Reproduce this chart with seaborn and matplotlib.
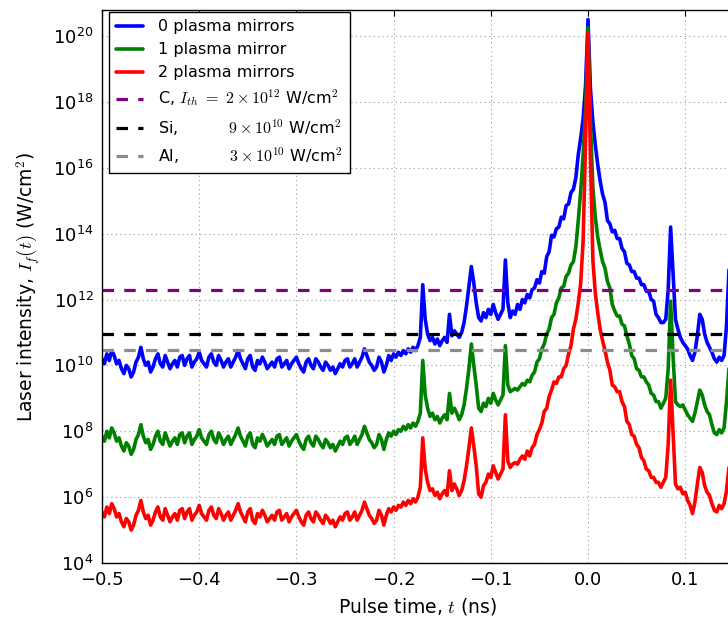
import numpy as np
import pandas as pd
import matplotlib
matplotlib.use("Agg")
import matplotlib.pyplot as plt
import matplotlib.ticker as mticker
import seaborn as sns

# ---------------- data (log10 of intensity) ----------------
t_coarse = np.round(np.linspace(-0.5, -0.21, 117), 4)
t_fine = np.round(np.linspace(-0.2075, 0.145, 142), 4)
time_ns = np.concatenate([t_coarse, t_fine])

blue_coarse = [10.20, 10.05, 10.35, 10.15, 10.45, 10.30, 10.05, 10.15, 9.90, 9.75,
               10.00, 9.90, 9.65, 9.80, 10.10, 10.25, 10.55, 10.20, 10.00, 10.10,
               9.80, 9.95, 10.20, 10.35, 10.05, 9.95, 10.30, 10.10, 9.90, 10.05,
               10.15, 9.95, 10.25, 10.30, 10.00, 10.20, 10.30, 9.95, 10.10, 10.20,
               10.40, 10.15, 10.05, 9.95, 10.25, 10.35, 10.10, 10.00, 10.30, 10.15,
               9.95, 10.10, 10.20, 9.95, 10.10, 10.25, 10.45, 10.20, 10.05, 9.90,
               10.20, 10.30, 9.95, 9.85, 10.15, 10.05, 10.25, 10.10, 9.90, 10.00,
               10.10, 9.95, 10.20, 10.25, 9.95, 10.05, 10.15, 9.90, 10.05, 10.15,
               10.25, 10.05, 9.90, 9.80, 10.10, 10.20, 10.00, 9.90, 10.20, 10.10,
               9.95, 9.85, 10.10, 10.00, 9.85, 9.95, 9.75, 9.90, 10.05, 9.95,
               10.15, 10.20, 9.95, 10.05, 10.20, 9.95, 10.10, 10.25, 10.50, 10.30,
               10.10, 10.00, 9.85, 9.95, 10.25, 10.10, 9.80]
blue_fine = [10.00, 10.30, 10.15, 10.35, 10.25, 10.40, 10.30, 10.45, 10.35, 10.50,
             10.40, 10.55, 10.45, 10.60, 10.85, 12.45, 11.40, 10.95, 10.75, 10.85,
             10.65, 10.80, 10.60, 10.75, 10.85, 10.70, 11.55, 10.90, 11.05, 10.95,
             10.85, 11.00, 11.30, 11.80, 12.40, 13.00, 12.50, 11.90, 11.45, 11.35,
             11.60, 11.45, 11.70, 11.55, 11.85, 11.60, 11.40, 11.55, 11.70, 13.20,
             11.90, 11.45, 11.65, 11.55, 11.85, 11.70, 12.00, 11.90, 12.15, 12.05,
             12.30, 12.35, 12.60, 12.50, 12.85, 12.80, 13.30, 13.45, 13.95, 13.90,
             14.15, 14.20, 14.50, 14.45, 14.85, 14.90, 15.25, 15.35, 15.70, 16.40,
             16.90, 17.50, 18.50, 20.50, 18.40, 17.40, 16.70, 16.10, 15.60, 15.20,
             14.95, 14.40, 14.30, 14.05, 14.10, 13.85, 13.85, 13.55, 13.45, 13.10,
             13.05, 12.85, 12.85, 12.65, 12.65, 12.45, 12.45, 12.25, 12.25, 12.00,
             11.95, 11.55, 11.45, 11.30, 11.30, 11.40, 12.30, 14.20, 12.80, 11.40,
             11.10, 10.85, 10.70, 10.60, 10.50, 10.30, 10.15, 10.40, 10.90, 11.55,
             11.40, 10.95, 10.70, 10.55, 10.40, 10.20, 10.10, 10.25, 10.15, 10.30,
             11.20, 12.90]

green_coarse = [7.85, 7.70, 8.00, 7.80, 8.10, 7.95, 7.70, 7.80, 7.55, 7.40,
                7.65, 7.55, 7.30, 7.45, 7.75, 7.90, 8.20, 7.85, 7.65, 7.75,
                7.45, 7.60, 7.85, 8.00, 7.70, 7.60, 7.95, 7.75, 7.55, 7.70,
                7.80, 7.60, 7.90, 7.95, 7.65, 7.85, 7.95, 7.60, 7.75, 7.85,
                8.05, 7.80, 7.70, 7.60, 7.90, 8.00, 7.75, 7.65, 7.95, 7.80,
                7.60, 7.75, 7.85, 7.60, 7.75, 7.90, 8.10, 7.85, 7.70, 7.55,
                7.85, 7.95, 7.60, 7.50, 7.80, 7.70, 7.90, 7.75, 7.55, 7.65,
                7.75, 7.60, 7.85, 7.90, 7.60, 7.70, 7.80, 7.55, 7.70, 7.80,
                7.90, 7.70, 7.55, 7.45, 7.75, 7.85, 7.65, 7.55, 7.85, 7.75,
                7.60, 7.50, 7.75, 7.65, 7.50, 7.60, 7.40, 7.55, 7.70, 7.60,
                7.80, 7.85, 7.60, 7.70, 7.85, 7.60, 7.75, 7.90, 8.15, 7.95,
                7.75, 7.65, 7.50, 7.60, 7.90, 7.75, 7.45]
green_fine = [7.75, 7.95, 7.85, 8.00, 7.90, 8.05, 8.00, 8.15, 8.05, 8.20,
              8.10, 8.25, 8.15, 8.30, 8.55, 10.15, 9.10, 8.70, 8.45, 8.55,
              8.35, 8.45, 8.25, 8.40, 8.50, 8.35, 9.15, 8.55, 8.70, 8.55,
              8.35, 8.50, 8.80, 9.30, 9.90, 10.65, 10.00, 9.40, 8.70, 8.60,
              8.85, 8.75, 9.00, 8.85, 9.15, 8.95, 8.80, 8.95, 9.10, 10.60,
              9.40, 9.20, 9.25, 9.30, 9.25, 9.35, 9.45, 9.40, 9.55, 9.50,
              9.70, 9.80, 10.10, 10.20, 10.50, 10.65, 10.95, 11.10, 11.45, 11.55,
              11.90, 12.05, 12.35, 12.40, 12.70, 12.80, 13.05, 13.15, 13.60, 14.40,
              15.30, 16.40, 17.80, 20.25, 17.40, 15.40, 14.50, 13.90, 13.50, 13.15,
              12.95, 12.55, 12.35, 11.85, 11.65, 11.50, 11.50, 11.25, 11.20, 10.90,
              10.65, 10.30, 10.20, 9.90, 9.85, 9.65, 9.65, 9.50, 9.40, 9.15,
              9.10, 8.90, 8.90, 8.70, 8.85, 9.00, 9.90, 11.95, 10.30, 8.90,
              8.80, 8.75, 8.80, 8.65, 8.50, 8.40, 8.30, 8.55, 8.90, 9.25,
              9.10, 8.80, 8.60, 8.50, 8.20, 7.95, 7.90, 8.05, 7.95, 8.10,
              8.90, 9.90]

red_coarse = [5.55, 5.40, 5.70, 5.50, 5.80, 5.65, 5.40, 5.50, 5.25, 5.10,
              5.35, 5.25, 5.00, 5.15, 5.45, 5.60, 5.90, 5.55, 5.35, 5.45,
              5.15, 5.30, 5.55, 5.70, 5.40, 5.30, 5.65, 5.45, 5.25, 5.40,
              5.50, 5.30, 5.60, 5.65, 5.35, 5.55, 5.65, 5.30, 5.45, 5.55,
              5.75, 5.50, 5.40, 5.30, 5.60, 5.70, 5.45, 5.35, 5.65, 5.50,
              5.30, 5.45, 5.55, 5.30, 5.45, 5.60, 5.80, 5.55, 5.40, 5.25,
              5.55, 5.65, 5.30, 5.20, 5.50, 5.40, 5.60, 5.45, 5.25, 5.35,
              5.45, 5.30, 5.55, 5.60, 5.30, 5.40, 5.50, 5.25, 5.40, 5.50,
              5.60, 5.40, 5.25, 5.15, 5.45, 5.55, 5.35, 5.25, 5.55, 5.45,
              5.30, 5.20, 5.45, 5.35, 5.20, 5.30, 5.10, 5.25, 5.40, 5.30,
              5.50, 5.55, 5.30, 5.40, 5.55, 5.30, 5.45, 5.60, 5.85, 5.65,
              5.45, 5.35, 5.20, 5.30, 5.60, 5.45, 5.15]
red_fine = [5.45, 5.65, 5.55, 5.70, 5.60, 5.75, 5.70, 5.85, 5.75, 5.90,
            5.80, 5.95, 5.85, 6.00, 6.30, 7.80, 6.85, 6.45, 6.20, 6.25,
            6.05, 6.15, 5.95, 6.10, 6.20, 6.05, 6.80, 6.20, 6.40, 6.25,
            6.05, 6.20, 6.50, 6.95, 7.50, 8.10, 7.55, 6.95, 6.10, 6.00,
            6.35, 6.45, 6.70, 6.60, 6.95, 6.75, 6.55, 6.70, 6.85, 8.50,
            7.10, 6.90, 7.00, 7.05, 7.00, 7.15, 7.25, 7.15, 7.40, 7.25,
            7.50, 7.60, 7.90, 8.05, 8.25, 8.60, 8.70, 9.05, 9.25, 9.50,
            9.45, 9.65, 9.65, 9.90, 10.00, 10.35, 10.60, 11.10, 11.40, 11.90,
            12.50, 13.80, 16.80, 20.10, 16.40, 13.20, 12.20, 11.60, 11.10, 10.75,
            10.45, 10.10, 9.85, 9.40, 9.35, 9.20, 9.20, 8.90, 8.75, 8.30,
            8.20, 7.90, 7.85, 7.60, 7.50, 7.20, 7.10, 6.85, 6.80, 6.60,
            6.60, 6.45, 6.45, 6.30, 6.45, 6.60, 7.60, 9.55, 8.00, 6.40,
            6.25, 6.30, 6.10, 6.15, 5.90, 5.75, 5.50, 5.85, 6.40, 6.90,
            6.75, 6.35, 6.15, 6.05, 5.80, 5.60, 5.55, 5.75, 5.65, 5.80,
            6.20, 6.90]

series_labels = ["0 plasma mirrors", "1 plasma mirror", "2 plasma mirrors"]
series_colors = ["#0000ff", "#008000", "#ff0000"]

threshold_values = [2e12, 9e10, 3e10]
threshold_labels = [r"C, $I_{th}\ =\ 2\times10^{12}$ W/cm$^2$",
                    r"Si,          $9\times10^{10}$ W/cm$^2$",
                    r"Al,          $3\times10^{10}$ W/cm$^2$"]
threshold_colors = ["#800080", "#000000", "#8c8c8c"]

y_ticks = [1e4, 1e6, 1e8, 1e10, 1e12, 1e14, 1e16, 1e18, 1e20]
x_ticks = [-0.5, -0.4, -0.3, -0.2, -0.1, 0.0, 0.1]

# ---------------- build table ----------------
frames = []
for lab, coarse, fine in zip(series_labels,
                             [blue_coarse, green_coarse, red_coarse],
                             [blue_fine, green_fine, red_fine]):
    logv = np.array(list(coarse) + list(fine))
    frames.append(pd.DataFrame({"t": time_ns, "I": 10.0 ** logv, "series": lab}))
df = pd.concat(frames, ignore_index=True)

# ---------------- style ----------------
sns.set_style("white")
plt.rcParams.update({
    "font.family": ["DejaVu Sans"],
    "mathtext.fontset": "cm",
    "axes.edgecolor": "black",
    "axes.linewidth": 1.0,
    "xtick.direction": "in",
    "ytick.direction": "in",
    "xtick.major.size": 4,
    "ytick.major.size": 4,
    "xtick.major.pad": 6,
    "ytick.major.pad": 6,
    "xtick.color": "black",
    "ytick.color": "black",
    "text.color": "black",
    "axes.labelcolor": "black",
})

W, H = 728, 627
fig = plt.figure(figsize=(W / 100, H / 100), dpi=100)
ax_left, ax_bottom = 102 / W, 1 - 563 / H
ax_w, ax_h = 631.8 / W, 553 / H
ax = fig.add_axes([ax_left, ax_bottom, ax_w, ax_h])

for lab, col in zip(series_labels, series_colors):
    sub = df[df["series"] == lab]
    sns.lineplot(data=sub, x="t", y="I", ax=ax, color=col, lw=2.6,
                 label=lab, estimator=None, sort=False)

for val, lab, col in zip(threshold_values, threshold_labels, threshold_colors):
    ax.axhline(val, color=col, lw=2.3, linestyle=(0, (3.6, 3.2)), label=lab)

ax.set_yscale("log")
ax.set_xlim(-0.5, 0.15)
ax.set_ylim(1e4, 10 ** 20.79)
ax.set_yticks(y_ticks)
ax.yaxis.set_major_formatter(mticker.LogFormatterSciNotation(base=10))
ax.yaxis.set_minor_locator(mticker.NullLocator())
ax.set_xticks(x_ticks)
ax.xaxis.set_major_formatter(mticker.FuncFormatter(lambda v, p: f"{v:.1f}".replace("-", "\u2212")))
ax.tick_params(axis="both", which="major", labelsize=13, top=True, right=True)
ax.grid(True, which="major", color="#9a9a9a", linestyle=(0, (1, 3)), linewidth=0.8)
ax.set_axisbelow(True)

ax.set_xlabel(r"Pulse time, $t$ (ns)", fontsize=13.5)
ax.set_ylabel(r"Laser intensity, $I_f(t)$ (W/cm$^2$)", fontsize=13.5)
ax.yaxis.set_label_coords((42 - 102) / 631.8, 0.5)
ax.xaxis.set_label_coords(0.5, (563 - 596) / 553)

leg = ax.legend(loc="upper left", bbox_to_anchor=(7 / 631.8, 1 - 2 / 553),
                borderaxespad=0, fontsize=11.5, frameon=True, fancybox=False,
                edgecolor="black", framealpha=1, handlelength=1.7,
                handletextpad=0.9, borderpad=0.45, labelspacing=0.5)
leg.get_frame().set_linewidth(1.0)

fig.savefig("out.png", dpi=100)
